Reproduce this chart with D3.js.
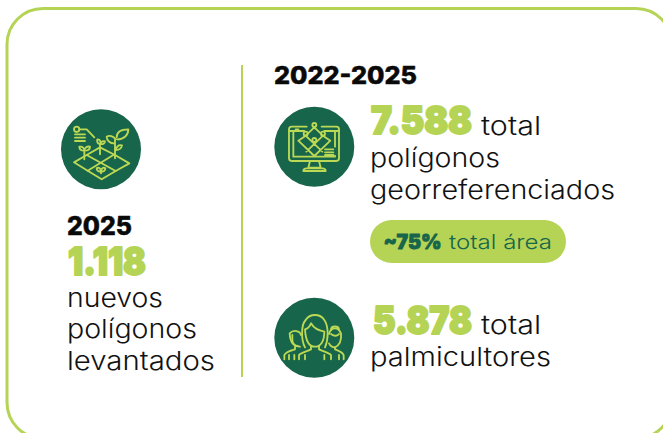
<!DOCTYPE html>
<html><head><meta charset="utf-8">
<script src="https://cdnjs.cloudflare.com/ajax/libs/d3/7.8.5/d3.min.js"></script>
<style>html,body{margin:0;padding:0;background:#fff;overflow:hidden}svg{display:block}
text{font-family:Inter,"Noto Sans",sans-serif}</style></head><body>
<script>
const headings = ["2025", "2022-2025"];
const figures = ["1.118", "7.588", "5.878"];
const captionLines = ["nuevos", "polígonos", "levantados", "total", "polígonos", "georreferenciados", "total", "palmicultores"];
const pillFigure = "~75%";
const pillCaption = "total área";

const LIME = "#b5d456", DARK = "#17654a", BLACK = "#0a0a0a";
const svg = d3.select("body").append("svg").attr("width", 663).attr("height", 433);

svg.append("rect").attr("x", 7).attr("y", 8.5).attr("width", 665).attr("height", 430).attr("rx", 36)
  .attr("fill", "#fff").attr("stroke", LIME).attr("stroke-width", 3);
svg.append("line").attr("x1", 242).attr("x2", 242).attr("y1", 65).attr("y2", 377)
  .attr("stroke", LIME).attr("stroke-width", 2);

function put(str, x, y, w, size, weight, fill, bold) {
  const t = svg.append("text").attr("x", x).attr("y", y).attr("font-size", size).attr("font-weight", weight)
    .attr("fill", fill).attr("textLength", w).attr("lengthAdjust", "spacingAndGlyphs").text(str);
  if (bold) t.attr("stroke", fill).attr("stroke-width", bold).attr("stroke-linejoin", "round");
}
put(headings[0], 67, 235, 65, 26, 800, BLACK, 0.5);
put(headings[1], 274, 84, 143, 24, 800, BLACK, 0.5);

put(figures[0], 68, 275, 78, 38, 900, LIME, 2);
put(figures[1], 371, 134, 101, 38, 900, LIME, 2);
put(figures[2], 373, 334, 99, 38, 900, LIME, 2);

const capW = 26, capC = "#111";
put(captionLines[0], 67, 307, 96, capW, 300, capC);
put(captionLines[1], 67, 338, 130, capW, 300, capC);
put(captionLines[2], 67, 370, 148, capW, 300, capC);
put(captionLines[3], 481, 135, 60, capW, 300, capC);
put(captionLines[4], 370, 167, 130, capW, 300, capC);
put(captionLines[5], 370, 199, 245, capW, 300, capC);
put(captionLines[6], 481, 334, 60, capW, 300, capC);
put(captionLines[7], 370, 366, 181, capW, 300, capC);

svg.append("rect").attr("x", 370).attr("y", 220).attr("width", 196).attr("height", 43).attr("rx", 21.5).attr("fill", LIME);
put(pillFigure, 383.5, 249, 58, 20, 900, DARK, 0.8);
put(pillCaption, 449, 249, 103, 20, 300, DARK);

function icon(cx, cy, ox, oy, paths, circles) {
  svg.append("circle").attr("cx", cx).attr("cy", cy).attr("r", 40).attr("fill", DARK);
  const g = svg.append("g").attr("transform", `translate(${ox},${oy}) scale(${1/3})`)
    .attr("fill", "none").attr("stroke", "#bcd955").attr("stroke-width", 5.5)
    .attr("stroke-linejoin", "round").attr("stroke-linecap", "round");
  paths.forEach(d => g.append("path").attr("d", d));
  circles.forEach(c => g.append("circle").attr("cx", c[0]).attr("cy", c[1]).attr("r", c[2]));
}

icon(101, 149.3, 50, 100, [
  "M88 88H110L133 112", "M75 103H105M75 113H105M75 123H105",
  "M72 187L110 165L150 142L195 165L238 190L197 213L155 238L113 212Z",
  "M110 165L197 213M190 165L113 212",
  "M103 178V152M103 152C90 152 88 145 88 140C98 138 103 145 103 152C103 145 110 138 120 140C120 148 112 152 103 152",
  "M150 163V132M150 132C143 132 140 125 142 118C150 118 152 124 152 130C154 124 160 122 165 124C165 130 158 134 152 132",
  "M195 175V120M197 118C190 108 178 105 170 110C170 122 182 132 195 130M200 112C200 95 215 88 235 88C235 105 222 118 202 118M197 150C205 150 214 146 216 136C208 134 200 138 197 150",
  "M140 205C145 201 152 204 153 214C146 216 140 212 140 205M166 205C161 201 154 204 153 214C160 216 166 212 166 205M153 214V220"
], [[80, 88, 8]]);

icon(314.3, 146.7, 265, 95, [
  "M125 95H80Q72 95 72 103V190Q72 198 80 198H214Q222 198 222 190V103Q222 95 214 95H170",
  "M72 108H118M178 108H222M85 108V185H210V182M210 155V108",
  "M135 198L130 218H167L162 198M115 228Q115 220 125 220H172Q182 220 182 228Z",
  "M100 137L122 122M100 137L148 183L196 137L174 122M122 122L148 97L174 122M122 122L172 170M174 122L124 170",
  "M180 163H205M180 172H205M180 180H205",
  "M92 103H100"
], [[148, 90, 6], [122, 116, 6], [174, 116, 6], [148, 135, 6]]);

icon(314.3, 337.8, 265, 290, [
  "M120 172C108 150 108 105 122 90C135 70 165 70 178 90C192 110 190 150 180 172",
  "M120 118C122 155 135 170 150 170C166 170 178 155 178 125C160 122 145 112 138 100C134 110 128 116 120 118",
  "M138 168V178C125 185 108 188 102 195V208M162 168V178C175 185 192 188 198 195V208M120 195V208M178 195V208",
  "M105 170C85 170 75 155 74 130C85 118 105 122 108 135",
  "M82 135V150C82 160 90 168 98 168M90 170V178C75 182 62 186 58 195V208M72 195V208M88 195V208",
  "M192 132C197 112 218 108 228 130C230 150 224 165 210 172C202 172 195 166 192 160",
  "M198 132C208 140 218 138 222 132M210 172V178C220 182 232 186 236 195V208M222 195V208",
  "M198 120C198 106 222 106 222 120"
], []);
</script></body></html>
